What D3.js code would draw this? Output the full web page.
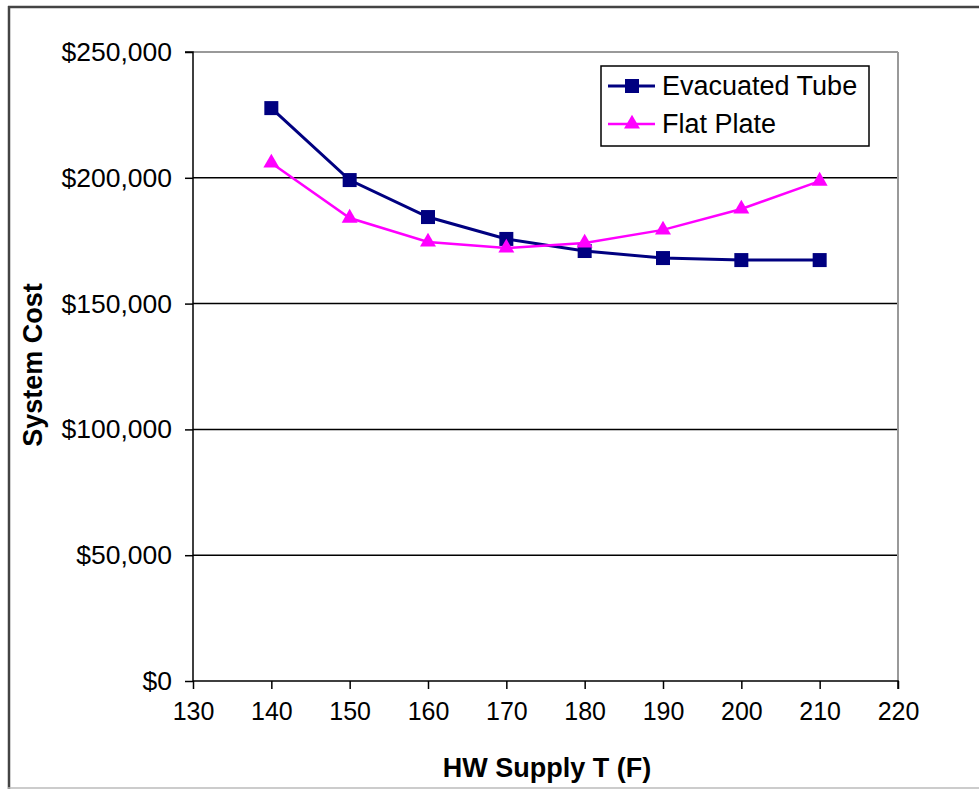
<!DOCTYPE html>
<html><head><meta charset="utf-8">
<script src="https://cdn.jsdelivr.net/npm/d3@7"></script>
<style>body{margin:0;background:#fff}svg{display:block}text{font-family:"Liberation Sans",Arial,sans-serif}</style>
</head><body><svg id="c" width="979" height="789"></svg>
<script>
const temps = [140,150,160,170,180,190,200,210];
const evacuatedTube = [227700,199100,184400,175700,170900,168100,167300,167300];
const flatPlate = [205900,184000,174500,172100,174100,179300,187600,198700];
const xTicks = [130,140,150,160,170,180,190,200,210,220];
const yTicks = [0,50000,100000,150000,200000,250000];
const seriesNames = ["Evacuated Tube","Flat Plate"];

const svg = d3.select("#c");
const L=193, R=898, T=52, B=681;
const x = d3.scaleLinear().domain([130,220]).range([L,R]);
const y = d3.scaleLinear().domain([0,250000]).range([B,T]);

// outer frame
svg.append("line").attr("x1",8).attr("x2",979).attr("y1",7).attr("y2",7).attr("stroke","#444").attr("stroke-width",2.5);
svg.append("line").attr("x1",9).attr("x2",9).attr("y1",6).attr("y2",789).attr("stroke","#444").attr("stroke-width",2.5);
svg.append("line").attr("x1",8).attr("x2",979).attr("y1",788).attr("y2",788).attr("stroke","#bbb").attr("stroke-width",1.5);

// gridlines
svg.append("g").selectAll("line").data(yTicks.filter(d=>d>0&&d<250000)).join("line")
  .attr("x1",L).attr("x2",R).attr("y1",d=>y(d)).attr("y2",d=>y(d)).attr("stroke","#000").attr("stroke-width",1.5);
// plot border top & right gray
svg.append("line").attr("x1",L).attr("x2",R).attr("y1",T).attr("y2",T).attr("stroke","#999").attr("stroke-width",2);
svg.append("line").attr("x1",R).attr("x2",R).attr("y1",T).attr("y2",B).attr("stroke","#999").attr("stroke-width",2);

const fmt = d=>"$"+d3.format(",")(d);
const yAx = svg.append("g").attr("transform",`translate(${L},0)`)
  .call(d3.axisLeft(y).tickValues(yTicks).tickFormat(fmt).tickSize(8).tickPadding(13));
const xAx = svg.append("g").attr("transform",`translate(0,${B})`)
  .call(d3.axisBottom(x).tickValues(xTicks).tickSize(8).tickPadding(13));
[yAx,xAx].forEach(g=>{
  g.select(".domain").attr("stroke","#000").attr("stroke-width",1.5);
  g.selectAll(".tick line").attr("stroke","#000").attr("stroke-width",1.5);
  g.selectAll("text").attr("fill","#000").attr("font-family","Liberation Sans, Arial, sans-serif");
});
yAx.selectAll("text").attr("font-size",26.5);
xAx.selectAll("text").attr("font-size",25);
yAx.select(".domain").attr("d",`M-8,${T}H0V${B}`);
xAx.select(".domain").attr("d",`M${L},0H${R}V8`);

// axis titles
svg.append("text").attr("x",547).attr("y",777).attr("text-anchor","middle").attr("font-size",27).attr("font-weight","bold").text("HW Supply T (F)");
svg.append("text").attr("transform","translate(42,365) rotate(-90)").attr("text-anchor","middle").attr("font-size",27).attr("font-weight","bold").text("System Cost");

const line = d3.line().x((d,i)=>x(temps[i])).y(d=>y(d));
const colors = ["#000080","#FF00FF"];
const tri = d3.symbol().type(d3.symbolTriangle).size(110);

// evacuated tube
svg.append("path").attr("d",line(evacuatedTube)).attr("fill","none").attr("stroke",colors[0]).attr("stroke-width",3);
svg.append("g").selectAll("rect").data(evacuatedTube).join("rect")
  .attr("x",(d,i)=>x(temps[i])-7).attr("y",d=>y(d)-7).attr("width",14).attr("height",14).attr("fill",colors[0]);
// flat plate
svg.append("path").attr("d",line(flatPlate)).attr("fill","none").attr("stroke",colors[1]).attr("stroke-width",2.5);
svg.append("g").selectAll("path").data(flatPlate).join("path")
  .attr("transform",(d,i)=>`translate(${x(temps[i])},${y(d)})`).attr("d",tri).attr("fill",colors[1]);

// legend
const lg = svg.append("g");
lg.append("rect").attr("x",601).attr("y",66).attr("width",268).attr("height",80).attr("fill","#fff").attr("stroke","#000").attr("stroke-width",1.5);
seriesNames.forEach((n,i)=>{
  const cy = 86 + i*38;
  lg.append("line").attr("x1",608).attr("x2",655).attr("y1",cy).attr("y2",cy).attr("stroke",colors[i]).attr("stroke-width",i?2.5:3);
  if(i===0) lg.append("rect").attr("x",625).attr("y",cy-7).attr("width",14).attr("height",14).attr("fill",colors[0]);
  else lg.append("path").attr("transform",`translate(632,${cy})`).attr("d",tri).attr("fill",colors[1]);
  lg.append("text").attr("x",662).attr("y",cy+9).attr("font-size",27).attr("fill","#000").text(n);
});
</script></body></html>
